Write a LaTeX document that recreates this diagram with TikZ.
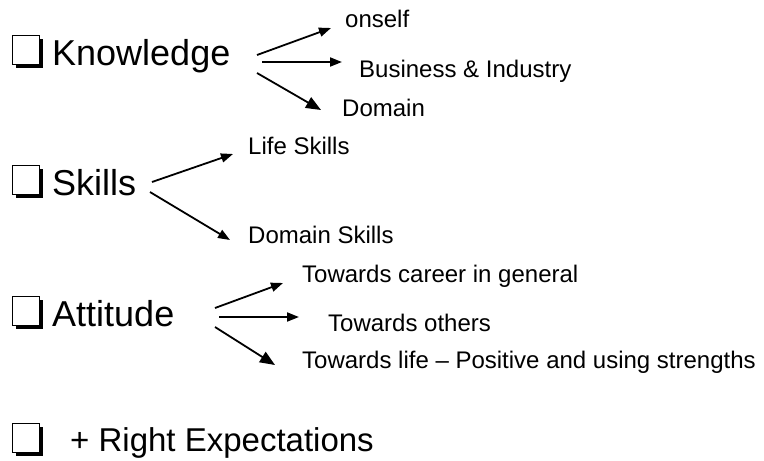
\documentclass[tikz,border=0pt]{standalone}
\usepackage{fontspec}
\setmainfont{Liberation Sans}
\usetikzlibrary{arrows.meta,positioning,shadows}

\begin{document}
\begin{tikzpicture}[x=1pt, y=-1pt,
  chkbox/.style = {draw=black, line width=1.6pt, fill=white, inner sep=0pt,
    minimum width=27pt, minimum height=29pt,
    drop shadow={shadow xshift=3pt, shadow yshift=-3pt, fill=black, opacity=1}},
  topic/.style = {anchor=base west, inner sep=0pt, font=\fontsize{36}{40}\selectfont},
  item/.style = {anchor=base west, inner sep=0pt, font=\fontsize{24}{28}\selectfont},
  arr/.style = {-{Triangle[length=12pt,width=9pt]}, line width=1.8pt},
  bigarr/.style = {-{Triangle[length=15pt,width=12pt]}, line width=1.8pt}]
  \useasboundingbox (0,0) rectangle (764,461);

  % Knowledge
  \node (kbox) [chkbox] at (26,50) {};
  \node (know) [topic] at (52,65) {Knowledge};
  \node (onself) [item] at (345,27) {onself};
  \node (busi) [item] at (359,77) {Business \& Industry};
  \node (domain) [item] at (342,116) {Domain};
  \coordinate (k1) at (257,55);   \coordinate (k1e) at (331,28);
  \coordinate (k2) at (262,62);   \coordinate (k2e) at (342,62);
  \coordinate (k3) at (257,73);   \coordinate (k3e) at (321,110);

  % Skills
  \node (sbox) [chkbox] at (26,180) {};
  \node (skills) [topic] at (52,195) {Skills};
  \node (life) [item] at (248,154) {Life Skills};
  \node (dskills) [item] at (248,243) {Domain Skills};
  \coordinate (s1) at (152,182);  \coordinate (s1e) at (233,154);
  \coordinate (s2) at (150,192);  \coordinate (s2e) at (230,240);

  % Attitude
  \node (abox) [chkbox] at (26,311) {};
  \node (att) [topic] at (52,326) {Attitude};
  \node (career) [item] at (302,282) {Towards career in general};
  \node (others) [item] at (328,331) {Towards others};
  \node (lifepos) [item] at (302,368) {Towards life -- Positive and using strengths};
  \coordinate (a1) at (215,308);  \coordinate (a1e) at (283,283);
  \coordinate (a2) at (219,317);  \coordinate (a2e) at (299,317);
  \coordinate (a3) at (215,327);  \coordinate (a3e) at (275,365);

  % expectations
  \node (rbox) [chkbox] at (26,438) {};
  \node (expect) [topic, font=\fontsize{33}{38}\selectfont] at (70,451) {+ Right Expectations};

  \path [arr]
  (k1) edge (k1e)
  (k2) edge (k2e)
  (s1) edge (s1e)
  (s2) edge (s2e)
  (a1) edge (a1e)
  (a2) edge (a2e);
  \path [bigarr]
  (k3) edge (k3e)
  (a3) edge (a3e);
\end{tikzpicture}
\end{document}
